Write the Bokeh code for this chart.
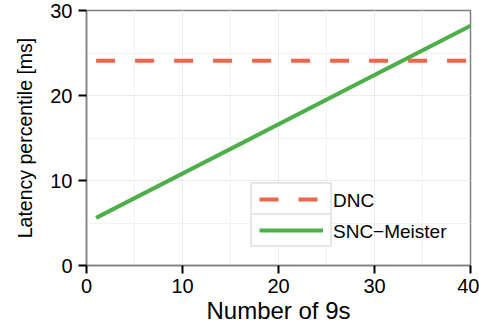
from bokeh.plotting import figure
from bokeh.models import SingleIntervalTicker, Range1d, Legend, LegendItem, Title
from bokeh.embed import file_html
from bokeh.resources import INLINE

nines = [1, 40]
dnc = [24.1, 24.1]
snc_meister = [5.6, 28.2]
series_labels = ["DNC", "SNC\u2212Meister"]

FONT = "Liberation Sans"

p = figure(width=479, height=328, output_backend="svg", toolbar_location=None,
           x_range=Range1d(0, 40), y_range=Range1d(0, 30),
           min_border_left=86, min_border_right=9, min_border_top=10, min_border_bottom=63)

p.outline_line_color = "#7f7f7f"
p.outline_line_width = 1.5

for ax in (p.xaxis[0], p.yaxis[0]):
    ax.ticker = SingleIntervalTicker(interval=10, num_minor_ticks=2)
    ax.axis_label_text_font = FONT
    ax.axis_label_text_font_style = "normal"
    ax.axis_label_text_color = "black"
    ax.major_label_text_font = FONT
    ax.major_label_text_font_size = "20px"
    ax.major_label_text_color = "black"
    ax.axis_line_color = "#7f7f7f"
    ax.axis_line_width = 1.5
    ax.major_tick_line_color = "black"
    ax.major_tick_line_width = 2
    ax.major_tick_out = 8
    ax.major_tick_in = 0
    ax.minor_tick_line_color = None

p.xaxis[0].axis_label = "Number of 9s"
p.xaxis[0].axis_label_text_font_size = "24px"
p.xaxis[0].major_label_standoff = 5
p.xaxis[0].axis_label_standoff = 1
p.yaxis[0].major_label_standoff = 6

ytitle = Title(text="Latency percentile [ms]", align="center", offset=33,
               text_font=FONT, text_font_size="19.5px", text_font_style="normal",
               text_color="black", standoff=23)
p.add_layout(ytitle, "left")

for g in (p.xgrid[0], p.ygrid[0]):
    g.grid_line_color = "#ebebeb"
    g.grid_line_width = 1
    g.minor_grid_line_color = "#f2f2f2"
    g.minor_grid_line_width = 1

r1 = p.line(nines, dnc, line_color="#EF6548", line_width=4, line_dash="19 20")
r2 = p.line(nines, snc_meister, line_color="#4DAF4A", line_width=4)

# key boxes (glyph only, bordered)
for r, bottom in ((r1, 49), (r2, 18)):
    kl = Legend(items=[LegendItem(label="", renderers=[r])], location=(164, bottom))
    kl.glyph_width = 64
    kl.glyph_height = 16
    kl.label_width = 0
    kl.label_height = 16
    kl.label_standoff = 0
    kl.padding = 7
    kl.margin = 0
    kl.spacing = 0
    kl.border_line_color = "#cfcfcf"
    kl.border_line_width = 2
    kl.background_fill_color = "white"
    kl.background_fill_alpha = 1
    p.add_layout(kl, "center")

# labels
tl = Legend(items=[LegendItem(label=series_labels[0], renderers=[r1]),
                   LegendItem(label=series_labels[1], renderers=[r2])],
            location=(247, 18))
tl.label_text_font = FONT
tl.label_text_font_size = "19px"
tl.label_text_color = "black"
tl.glyph_width = 0
tl.glyph_height = 30
tl.label_height = 30
tl.label_standoff = 0
tl.spacing = 1
tl.padding = 0
tl.margin = 0
tl.border_line_color = None
tl.background_fill_alpha = 0
p.add_layout(tl, "center")

open("out.html", "w").write(file_html(p, INLINE))
